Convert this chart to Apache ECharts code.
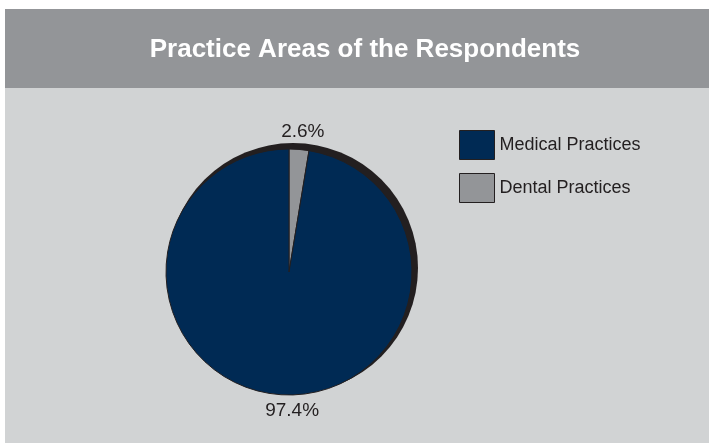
<!DOCTYPE html>
<html>
<head>
<meta charset="utf-8">
<script src="https://cdn.jsdelivr.net/npm/echarts@6/dist/echarts.min.js"></script>
<style>
  html, body { margin: 0; padding: 0; background: #ffffff; }
  #chart { width: 709px; height: 443px; }
</style>
</head>
<body>
<div id="chart"></div>
<script>
// data
const categories = ["Dental Practices", "Medical Practices"]
const shares = [2.6, 97.4]
const sliceColors = ["#939598", "#002a54"]
const legendOrder = ["Medical Practices", "Dental Practices"]
// nudges so the value labels sit where the original puts them (top / bottom of the pie)
const labelShift = { "Dental Practices": [-2, -8], "Medical Practices": [19, 6] }

const fontMain = "'Liberation Sans', Arial, sans-serif"

const chart = echarts.init(document.getElementById("chart"))

const option = {
  backgroundColor: "#ffffff",
  animation: false,
  graphic: [
    // header band
    { type: "rect", z: -10, shape: { x: 5, y: 9, width: 704, height: 79 }, style: { fill: "#939598" } },
    // body panel
    { type: "rect", z: -10, shape: { x: 5, y: 88, width: 704, height: 355 }, style: { fill: "#d1d3d4" } }
  ],
  title: {
    text: "Practice Areas of the Respondents",
    left: 360,
    top: 32,
    textAlign: "center",
    textStyle: {
      color: "#ffffff",
      fontFamily: fontMain,
      fontWeight: "bold",
      fontSize: 26
    }
  },
  legend: {
    data: legendOrder,
    orient: "vertical",
    left: 454,
    top: 125,
    itemWidth: 35,
    itemHeight: 29,
    itemGap: 13,
    icon: "rect",
    selectedMode: false,
    itemStyle: { borderColor: "#231f20", borderWidth: 1 },
    textStyle: {
      color: "#231f20",
      fontFamily: fontMain,
      fontSize: 18
    }
  },
  series: [
    {
      // dark rim behind the pie
      type: "pie",
      silent: true,
      z: 1,
      center: [293, 268],
      radius: 125,
      label: { show: false },
      labelLine: { show: false },
      itemStyle: { color: "#231f20" },
      data: [{ value: 1, name: "rim" }],
      legendHoverLink: false
    },
    {
      type: "pie",
      z: 2,
      center: [289, 272],
      radius: 123,
      startAngle: 90,
      clockwise: true,
      label: {
        show: true,
        position: "outside",
        formatter: p => p.value.toFixed(1) + "%",
        color: "#231f20",
        fontFamily: fontMain,
        fontSize: 19
      },
      labelLine: { show: false, length: 10, length2: 0 },
      labelLayout: params => {
        const name = categories[params.dataIndex]
        const d = labelShift[name] || [0, 0]
        return { align: "center", dx: d[0], dy: d[1] }
      },
      itemStyle: { borderColor: "#231f20", borderWidth: 1 },
      data: categories.map((name, i) => ({
        name: name,
        value: shares[i],
        itemStyle: { color: sliceColors[i] }
      }))
    }
  ]
}

chart.setOption(option)
</script>
</body>
</html>
